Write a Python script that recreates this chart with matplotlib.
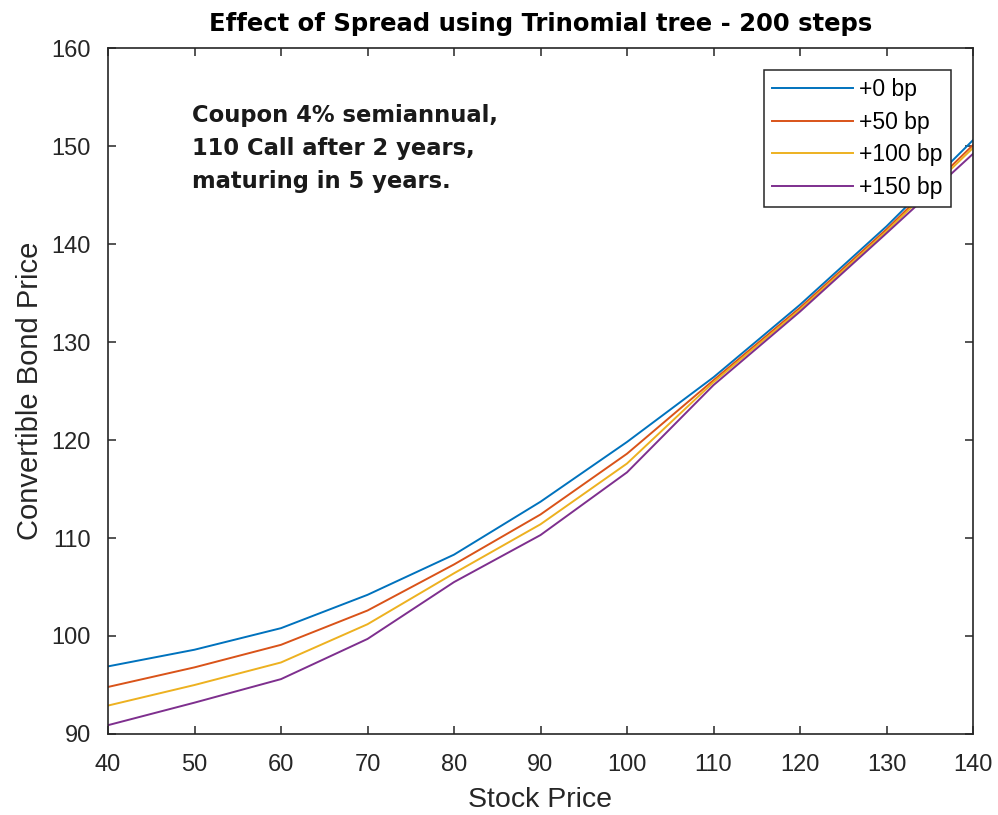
import matplotlib
matplotlib.use("Agg")
import matplotlib.pyplot as plt

plt.rcParams['font.family'] = ['Liberation Sans', 'DejaVu Sans']

# stock price grid
stock = [40, 50, 60, 70, 80, 90, 100, 110, 120, 130, 140]

# convertible bond prices per spread
bp0 = [96.9, 98.6, 100.8, 104.2, 108.3, 113.7, 119.8, 126.4, 133.8, 141.8, 150.6]
bp50 = [94.8, 96.8, 99.1, 102.6, 107.3, 112.4, 118.6, 126.1, 133.5, 141.5, 150.1]
bp100 = [92.9, 95.0, 97.3, 101.2, 106.4, 111.4, 117.6, 125.9, 133.3, 141.3, 149.8]
bp150 = [90.9, 93.2, 95.6, 99.7, 105.5, 110.3, 116.7, 125.6, 133.1, 141.1, 149.2]

labels = ['+0 bp', '+50 bp', '+100 bp', '+150 bp']
colors = ['#0072BD', '#D95319', '#EDB120', '#7E2F8E']

fig = plt.figure(figsize=(9.98, 8.15), dpi=100)
ax = fig.add_axes([108/998, 1 - 734/815, 865/998, 686/815])

for ys, lab, c in zip([bp0, bp50, bp100, bp150], labels, colors):
    ax.plot(stock, ys, color=c, lw=1.4, label=lab)

ax.set_xlim(40, 140)
ax.set_ylim(90, 160)
ax.set_xticks(range(40, 141, 10))
ax.set_yticks(range(90, 161, 10))

dark = '#262626'
for s in ax.spines.values():
    s.set_color(dark)
    s.set_linewidth(1.2)
ax.tick_params(direction='in', top=True, right=True, length=6, width=1.1,
               color=dark, labelcolor=dark, labelsize=17)
ax.tick_params(axis='x', pad=14.5)
ax.tick_params(axis='y', pad=12.5)

ax.set_xlabel('Stock Price', fontsize=20.5, color=dark, labelpad=8)
ax.set_ylabel('Convertible Bond Price', fontsize=21, color=dark, labelpad=5)
ax.set_title('Effect of Spread using Trinomial tree - 200 steps',
             fontsize=17.5, fontweight='bold', color='black', pad=12,
             family='DejaVu Sans')

ax.text(0.097, 0.918, 'Coupon 4% semiannual,\n110 Call after 2 years,\nmaturing in 5 years.',
        transform=ax.transAxes, fontsize=16.3, fontweight='bold', va='top', ha='left',
        linespacing=1.56, color='#1a1a1a', family='DejaVu Sans')

leg = ax.legend(loc='upper right', fontsize=16.5, frameon=True, fancybox=False,
                edgecolor=dark, framealpha=1, handlelength=3.5, handletextpad=0.3,
                labelspacing=0.42, borderpad=0.36, borderaxespad=0.95)
leg.get_frame().set_linewidth(1.1)

fig.savefig('out.png', dpi=100)
